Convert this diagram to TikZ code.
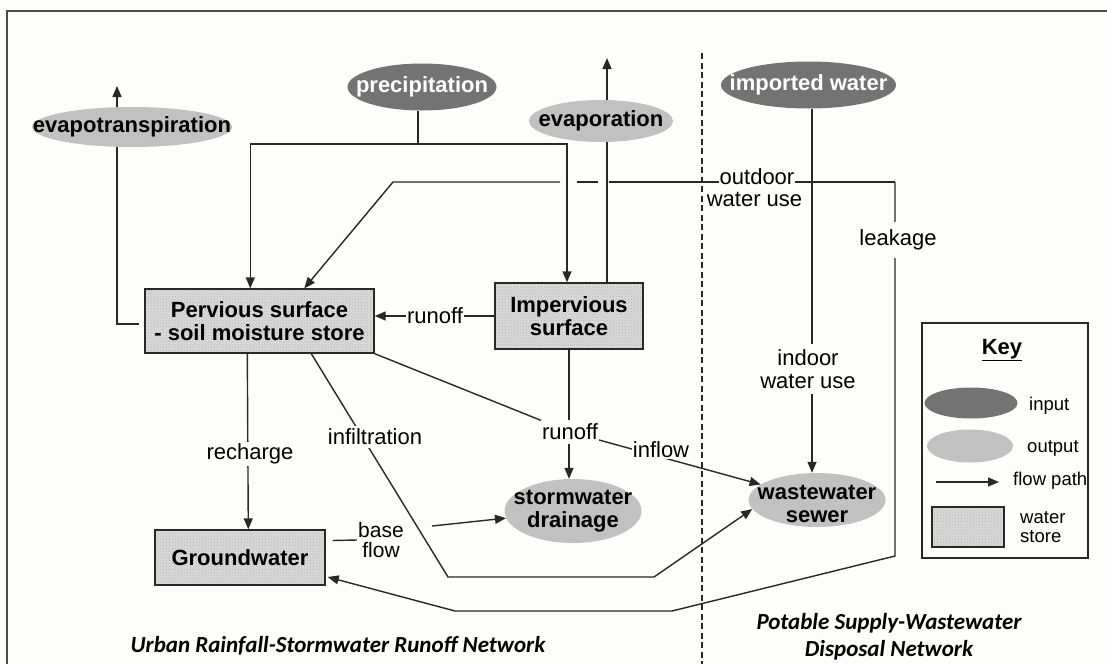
\documentclass[tikz,border=0pt]{standalone}
\usepackage{fontspec}
\setmainfont{Liberation Sans}
\newfontfamily\calfam{Carlito}
\usetikzlibrary{arrows.meta,shapes.geometric,patterns,calc,backgrounds}
\definecolor{bg}{RGB}{253,253,250}
\definecolor{lc}{RGB}{40,40,40}
\definecolor{dkg}{RGB}{115,115,115}
\definecolor{ltg}{RGB}{193,193,193}
\definecolor{boxfill}{RGB}{218,218,218}
\newcommand\bfnt{\fontsize{22}{23}\selectfont\bfseries}
\newcommand\rgfnt{\fontsize{22}{22.5}\selectfont}
\newcommand\kyfnt{\fontsize{18.5}{19}\selectfont}
\newcommand\ttfnt{\calfam\fontsize{23}{27}\selectfont\bfseries\itshape}
\begin{document}
\begin{tikzpicture}[x=1pt,y=-1pt,
  ln/.style={draw=lc, line width=1.4pt},
  arr/.style={ln, -{Triangle[length=11pt,width=9pt]}},
  lab/.style={font=\rgfnt, fill=bg, inner sep=1pt, align=center},
  inpt/.style={ellipse, fill=dkg, inner sep=0pt},
  outpt/.style={ellipse, fill=ltg, inner sep=0pt},
  store/.style={rectangle, draw=lc, line width=1.4pt, preaction={fill=boxfill},
    pattern=crosshatch dots, pattern color=gray!60, inner sep=0pt, font=\bfnt, align=center},
  wtxt/.style={font=\bfnt, text=white, align=center},
  btxt/.style={font=\bfnt, align=center}]
\useasboundingbox (0,0) rectangle (1107,664);

% ellipses
\node[outpt, minimum width=200pt, minimum height=40pt, label={[btxt]center:evapotranspiration}] (evt) at (132,127) {};
\node[inpt, minimum width=149pt, minimum height=47pt, label={[wtxt]center:precipitation}] (prec) at (422,87) {};
\node[outpt, minimum width=144pt, minimum height=42pt, label={[btxt]center:evaporation}] (evp) at (601,121) {};
\node[inpt, minimum width=175pt, minimum height=47pt, label={[wtxt]center:imported water}] (iw) at (808.5,85) {};
\node[outpt, minimum width=137pt, minimum height=64pt, label={[btxt]center:{stormwater\\drainage}}] (stw) at (573,511) {};
\node[outpt, minimum width=137pt, minimum height=54pt, label={[btxt,yshift=-4pt]center:{wastewater\\sewer}}] (ww) at (817,500) {};

% stores
\node[store, minimum width=229pt, minimum height=64pt] (perv) at (259.5,321) {Pervious surface\\- soil moisture store};
\node[store, minimum width=148pt, minimum height=66pt] (imp) at (569,316) {Impervious\\surface};
\node[store, minimum width=170pt, minimum height=55pt] (gw) at (240,557.5) {Groundwater};

% flow labels
\node[lab] (ro1) at (435,316) {runoff};
\node[lab, inner ysep=4pt] (ro2) at (570,432) {runoff};
\node[lab] (inf) at (661,450) {inflow};
\node[lab, inner ysep=2pt] (rch) at (250,454) {recharge};
\node[lab, inner ysep=3pt] (ifl) at (375,437) {infiltration};
\node[lab, inner ysep=1pt, font=\fontsize{21}{20.5}\selectfont] (bfl) at (381,540) {base\\flow};
\node[lab, inner ysep=6pt] (idw) at (808,369) {indoor\\water use};
\node[lab] (odw1) at (757,177) {outdoor};
\node[lab] (odw2) at (754.5,199) {water use};
\node[lab, inner ysep=8pt] (lkg) at (898,240) {leakage};

% titles
\node[font=\ttfnt] (t1) at (338,646) {Urban Rainfall-Stormwater Runoff Network};
\node[font=\ttfnt, align=center] (t2) at (889,637) {Potable Supply-Wastewater\\Disposal Network};

% key
\node[draw=lc, line width=1.4pt, minimum width=166pt, minimum height=235pt, inner sep=0pt] (keyb) at (1005,440.5) {};
\node[font=\bfnt] (keyt) at (1002,350) {\underline{Key}};
\node[inpt, minimum width=93pt, minimum height=31pt] (kin) at (971,403) {};
\node[outpt, minimum width=86pt, minimum height=33pt] (kout) at (970,446) {};
\coordinate (kfa) at (936,482);
\coordinate (kfb) at (999,482);
\node[store, minimum width=72pt, minimum height=40pt] (kst) at (968,527) {};
\node[font=\kyfnt, anchor=west, inner sep=0pt] (kinl) at (1029,406) {input};
\node[font=\kyfnt, anchor=west, inner sep=0pt] (koutl) at (1027,448) {output};
\node[font=\kyfnt, anchor=west, inner sep=0pt] (kfl) at (1013,481) {flow path};
\node[font=\kyfnt, anchor=west, inner sep=0pt, align=left] (kstl) at (1020,527) {water\\store};

\begin{scope}[on background layer]
\fill[bg] (0,0) rectangle (1107,664);
\draw[draw=gray!60!black, line width=1.2pt] (7,664) -- (7,11) -- (1107,11);
\draw[lc, line width=1.2pt, dash pattern=on 6pt off 3.5pt] (702,53) -- (702,664);

% precipitation
\coordinate (pj) at (418,144);
\draw[ln] (prec.south -| pj) -- (pj);
\draw[arr] (pj) -| ($(perv.north west)+(106,0)$);
\draw[arr] (pj) -| ($(imp.north)+(-2,0)$);
% evaporation / evapotranspiration
\coordinate (evTip) at (607,58);
\draw[arr] ($(imp.north)+(38,0)$) -- (evTip);
\coordinate (etTip) at (117,86);
\draw[arr] ($(perv.west)+(-5,3)$) -| (etTip);
% runoff
\draw[arr] (imp.west) -- (imp.west -| perv.east);
\draw[arr] (imp.south) -- (imp.south |- stw.north);
\draw[arr] (perv.south east) -- (ro2.center) -- (ww);
% infiltration
\coordinate (if1) at (448,577);
\coordinate (if2) at (654,577);
\draw[arr] ($(perv.south west)+(167,0)$) -- (if1) -- (if2) -- (ww.188);
% recharge
\draw[arr] ($(perv.south west)+(103,0)$) -- ($(gw.north west)+(94,0)$);
% base flow
\draw[ln] ($(gw.east)+(7,-17)$) -- (bfl.west);
\coordinate (bfR) at (432,526);
\draw[arr] (bfR) -- (stw);
% indoor
\coordinate (iwS) at ($(iw.south)+(3.5,0)$);
\draw[arr] (iwS) -- (iwS |- ww.north);
% outdoor / leakage
\coordinate (odC) at (895,182);
\coordinate (odL) at (393,182);
\coordinate (g1) at (609,182);
\coordinate (g2) at (598,182);
\coordinate (g3) at (577,182);
\coordinate (g4) at (560,182);
\coordinate (lkB) at (895,556);
\coordinate (lkR) at (672,611);
\coordinate (lkL) at (455,611);
\draw[ln] (odC) -- (g1);
\draw[ln] (g2) -- (g3);
\draw[arr] (g4) -- (odL) -- ($(perv.north west)+(160,0)$);
\draw[arr] (odC) -- (lkB) -- (lkR) -- (lkL) -- ($(gw.east)+(2,19.5)$);
% key arrow
\draw[arr] (kfa) -- (kfb);
\end{scope}
\end{tikzpicture}
\end{document}
